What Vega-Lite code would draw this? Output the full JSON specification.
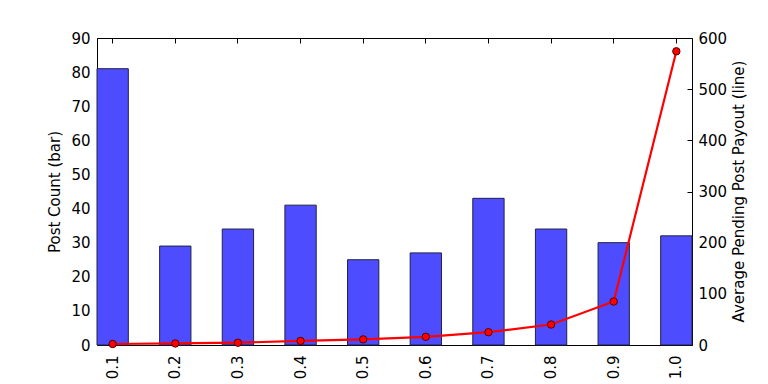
{
  "$schema": "https://vega.github.io/schema/vega-lite/v6.json",
  "autosize": "none",
  "width": 595,
  "height": 307,
  "padding": {"left": 97, "top": 38, "right": 76, "bottom": 39},
  "background": "white",
  "config": {
    "font": "DejaVu Sans",
    "view": {"stroke": "black", "strokeWidth": 1},
    "axis": {
      "labelFont": "DejaVu Sans",
      "titleFont": "DejaVu Sans",
      "labelFontSize": 15,
      "titleFontSize": 15,
      "titleFontWeight": "normal",
      "labelColor": "black",
      "titleColor": "black",
      "domain": false,
      "tickColor": "black",
      "tickWidth": 1,
      "grid": false,
      "tickSize": 5,
      "offset": -5,
      "labelPadding": 7,
      "zindex": 2
    }
  },
  "data": {
    "values": [
      {"bin": "0.1", "count": 81, "payout": 2},
      {"bin": "0.2", "count": 29, "payout": 3},
      {"bin": "0.3", "count": 34, "payout": 4.5},
      {"bin": "0.4", "count": 41, "payout": 8},
      {"bin": "0.5", "count": 25, "payout": 11},
      {"bin": "0.6", "count": 27, "payout": 16},
      {"bin": "0.7", "count": 43, "payout": 25},
      {"bin": "0.8", "count": 34, "payout": 40},
      {"bin": "0.9", "count": 30, "payout": 85},
      {"bin": "1.0", "count": 32, "payout": 574}
    ]
  },
  "encoding": {
    "x": {
      "field": "bin",
      "type": "ordinal",
      "scale": {"paddingInner": 0.5, "paddingOuter": 0}
    }
  },
  "layer": [
    {
      "mark": {"type": "bar", "color": "#4d4dff", "stroke": "#222244", "strokeWidth": 1},
      "encoding": {
        "x": {
          "field": "bin",
          "type": "ordinal",
          "axis": {"orient": "bottom", "title": null, "labelAngle": -90, "labelAlign": "right", "labelBaseline": "middle", "labelPadding": 10}
        },
        "y": {
          "field": "count",
          "type": "quantitative",
          "scale": {"domain": [0, 90], "nice": false},
          "axis": {"orient": "left", "title": "Post Count (bar)", "values": [0,10,20,30,40,50,60,70,80,90], "titlePadding": 8}
        }
      }
    },
    {
      "mark": {"type": "line", "color": "#ff0000", "strokeWidth": 2.2},
      "encoding": {
        "x": {
          "field": "bin",
          "type": "ordinal",
          "axis": {"orient": "top", "title": null, "labels": false}
        },
        "y": {
          "field": "payout",
          "type": "quantitative",
          "scale": {"domain": [0, 600], "nice": false},
          "axis": {"orient": "right", "title": "Average Pending Post Payout (line)", "titleAngle": 270, "titleX": 51, "titleY": 153, "titleAlign": "center", "titleBaseline": "middle", "labelPadding": 6, "values": [0,100,200,300,400,500,600]}
        }
      }
    },
    {
      "mark": {"type": "point", "filled": true, "fill": "#ff0000", "stroke": "#550000", "strokeWidth": 1, "size": 55, "opacity": 1},
      "encoding": {
        "x": {"field": "bin", "type": "ordinal", "axis": null},
        "y": {"field": "payout", "type": "quantitative", "scale": {"domain": [0, 600], "nice": false}, "axis": null}
      }
    }
  ],
  "resolve": {"scale": {"y": "independent"}, "axis": {"x": "independent"}}
}
